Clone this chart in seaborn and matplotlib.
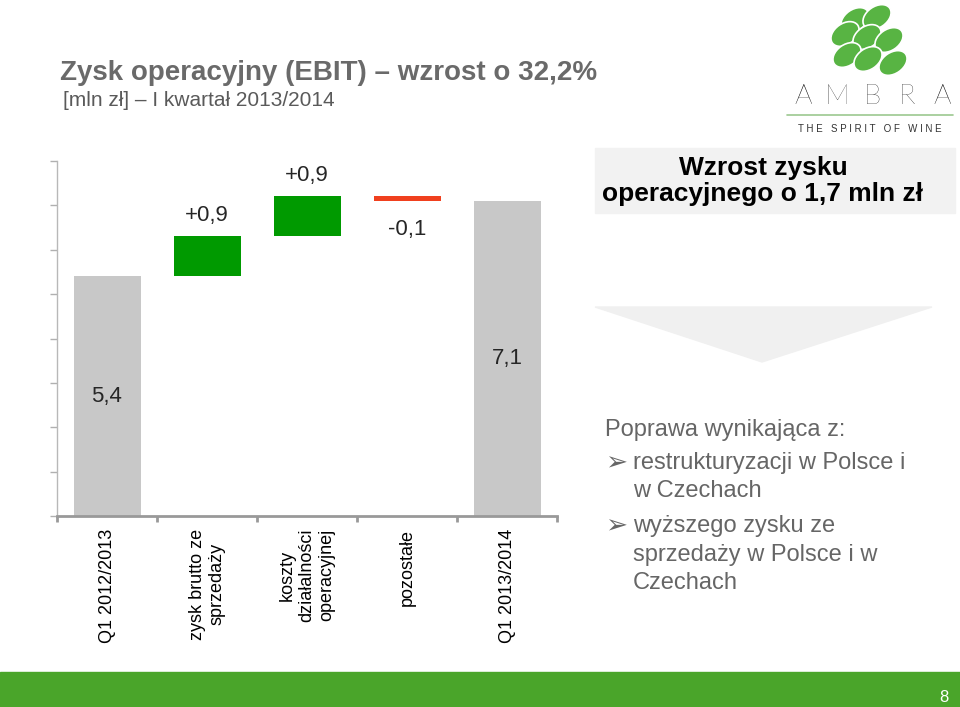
import numpy as np
import matplotlib
matplotlib.use("Agg")
import matplotlib.pyplot as plt
from matplotlib.patches import Rectangle, Polygon, Ellipse
from matplotlib.lines import Line2D
import seaborn as sns

# ── Dane ─────────────────────────────────────────────────────────────────────

KATEGORIE = ["Q1 2012/2013", "zysk brutto ze\nsprzedaży",
             "koszty\ndziałalności\noperacyjnej", "pozostałe", "Q1 2013/2014"]
ZMIANY = [5.4, 0.9, 0.9, -0.1, 7.1]
RODZAJ = ["suma", "zmiana", "zmiana", "zmiana", "suma"]
ETYKIETY = ["5,4", "+0,9", "+0,9", "-0,1", "7,1"]
KOLORY = ["#c8c8c8", "#009a00", "#009a00", "#f0401e", "#c8c8c8"]

TYTUL = "Zysk operacyjny (EBIT) – wzrost o 32,2%"
PODTYTUL = "[mln zł] – I kwartał 2013/2014"
RAMKA = "Wzrost zysku\noperacyjnego o 1,7 mln zł"

W, H = 960, 707


def fx(px):
    return px / W


def fy(py):
    return 1 - py / H


# ── Waterfall: podstawy słupków ──────────────────────────────────────────────

dol, wys = [], []
poziom = 0.0
for z, r in zip(ZMIANY, RODZAJ):
    if r == "suma":
        dol.append(0.0)
        wys.append(z)
        poziom = z
    else:
        dol.append(poziom if z >= 0 else poziom + z)
        wys.append(abs(z))
        poziom += z

sns.set_style("white")
plt.rcParams['font.family'] = ['Liberation Sans', 'DejaVu Sans']

fig = plt.figure(figsize=(9.6, 7.07), dpi=100)
ax = fig.add_axes([fx(57), fy(516), 500 / W, 355 / H])

sns.barplot(x=KATEGORIE, y=wys, hue=KATEGORIE, palette=KOLORY,
            width=0.67, saturation=1, legend=False, ax=ax)

for patch, d in zip(ax.patches, dol):
    patch.set_y(d)
    patch.set_linewidth(0)

ax.set_ylim(0, 8)
ax.set_xlim(-0.5, 4.5)
ax.set_yticks(np.arange(0, 9, 1))
ax.set_yticklabels([])
ax.set_xticks(range(len(KATEGORIE)))
ax.set_xticks(np.arange(-0.5, 5, 1), minor=True)
ax.tick_params(axis='y', left=True, length=5, width=1, color='#b0b0b0', direction='out')
ax.tick_params(axis='x', which='major', length=0, pad=9)
ax.tick_params(axis='x', which='minor', bottom=True, length=4, width=2,
               color='#999999', direction='out')
for lab in ax.get_xticklabels():
    lab.set_rotation(90)
    lab.set_ha('center')
    lab.set_va('top')
    lab.set_multialignment('center')
    lab.set_fontsize(13)
    lab.set_color('black')

for s in ['top', 'right']:
    ax.spines[s].set_visible(False)
ax.spines['left'].set_color('#b8b8b8')
ax.spines['left'].set_linewidth(1)
ax.spines['bottom'].set_color('#999999')
ax.spines['bottom'].set_linewidth(2)
ax.set_xlabel('')
ax.set_ylabel('')

# etykiety wartości
for patch, r, z, et in zip(ax.patches, RODZAJ, ZMIANY, ETYKIETY):
    xc = patch.get_x() + patch.get_width() / 2
    if r == "suma":
        ax.text(xc, patch.get_y() + patch.get_height() / 2, et,
                ha='center', va='center', fontsize=16)
    elif z >= 0:
        ax.annotate(et, (xc, patch.get_y() + patch.get_height()),
                    xytext=(0, 10), textcoords='offset pixels',
                    ha='center', va='bottom', fontsize=16)
    else:
        ax.annotate(et, (xc, patch.get_y()),
                    xytext=(0, -18), textcoords='offset pixels',
                    ha='center', va='top', fontsize=16)

# ── Tytuły ───────────────────────────────────────────────────────────────────

fig.text(fx(60), fy(73), TYTUL, fontsize=20, weight='bold', color='#6a6a6a',
         va='center', ha='left')
fig.text(fx(63), fy(100), PODTYTUL, fontsize=15, color='#5a5a5a',
         va='center', ha='left')

# ── Prawy panel ──────────────────────────────────────────────────────────────

fig.patches.append(Rectangle((fx(595), fy(213)), 360 / W, 65 / H,
                             transform=fig.transFigure, color='#f2f2f2', zorder=0))
fig.text(fx(763), fy(181), RAMKA, fontsize=19, weight='bold', color='black',
         ha='center', va='center', linespacing=1.15, multialignment='center')

fig.patches.append(Polygon([(fx(595), fy(307)), (fx(932), fy(307)), (fx(762), fy(362))],
                           closed=True, transform=fig.transFigure,
                           color='#f0f0f0', zorder=0))

szary = '#666666'
fig.text(fx(605), fy(430), "Poprawa wynikająca z:", fontsize=17, color=szary, va='center')
fig.text(fx(605), fy(463), "➢", fontsize=19, color=szary, va='center',
         family=['DejaVu Sans'])
fig.text(fx(633), fy(463), "restrukturyzacji w Polsce i", fontsize=17, color=szary, va='center')
fig.text(fx(633), fy(491), "w Czechach", fontsize=17, color=szary, va='center')
fig.text(fx(605), fy(526), "➢", fontsize=19, color=szary, va='center',
         family=['DejaVu Sans'])
fig.text(fx(633), fy(526), "wyższego zysku ze", fontsize=17, color=szary, va='center')
fig.text(fx(633), fy(555), "sprzedaży w Polsce i w", fontsize=17, color=szary, va='center')
fig.text(fx(633), fy(583), "Czechach", fontsize=17, color=szary, va='center')

# ── Stopka ───────────────────────────────────────────────────────────────────

fig.patches.append(Rectangle((0, 0), 1, 35 / H, transform=fig.transFigure,
                             color='#4aa52a', zorder=0))
fig.text(fx(944), fy(697), "8", fontsize=12, color='white', ha='center', va='center')

# ── Logo ─────────────────────────────────────────────────────────────────────

ax_logo = fig.add_axes([fx(780), fy(140), 180 / W, 140 / H])
ax_logo.set_xlim(780, 960)
ax_logo.set_ylim(140, 0)
ax_logo.axis('off')
winogrona = [(855, 20), (877, 17), (845, 34), (867, 37), (889, 40),
             (847, 55), (868, 59), (893, 63)]
for cx, cy in winogrona:
    ax_logo.add_patch(Ellipse((cx, cy), 31, 21, angle=-35, facecolor='#58b443',
                              edgecolor='white', linewidth=1.2))
for litera, lx in zip("AMBRA", [803, 837, 872, 907, 942]):
    ax_logo.text(lx, 96, litera, fontsize=20, color='black', ha='center',
                 va='center', family=['Lato', 'DejaVu Sans'], weight='light')
ax_logo.add_line(Line2D([787, 953], [115, 115], color='#9cc890', lw=1.2))
ax_logo.text(870, 129, "T H E   S P I R I T   O F   W I N E", fontsize=7,
             color='#333333', ha='center', va='center')

fig.savefig("out.png", dpi=100)
